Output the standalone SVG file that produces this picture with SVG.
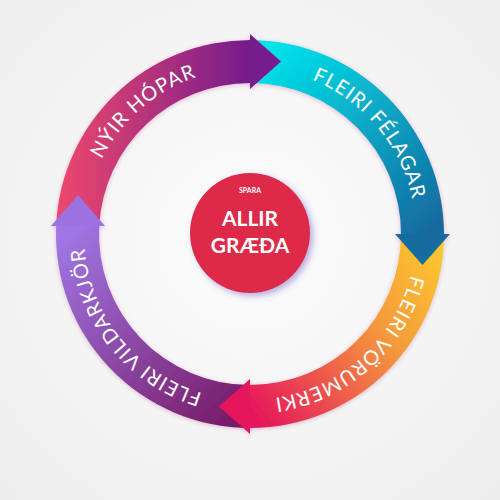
<svg xmlns="http://www.w3.org/2000/svg" width="500" height="500" viewBox="0 0 500 500">
  <defs>
    <radialGradient id="bg" cx="250" cy="240" r="360" gradientUnits="userSpaceOnUse">
      <stop offset="0" stop-color="#fdfdfd"/>
      <stop offset="1" stop-color="#ededee"/>
    </radialGradient>
    <linearGradient id="g1" x1="60" y1="150" x2="250" y2="150" gradientUnits="userSpaceOnUse">
      <stop offset="0" stop-color="#ec476c"/>
      <stop offset="1" stop-color="#761c8c"/>
    </linearGradient>
    <linearGradient id="g2" x1="270" y1="45" x2="430" y2="230" gradientUnits="userSpaceOnUse">
      <stop offset="0" stop-color="#00e4ea"/>
      <stop offset="1" stop-color="#146aa0"/>
    </linearGradient>
    <linearGradient id="g3" x1="450" y1="250" x2="250" y2="410" gradientUnits="userSpaceOnUse">
      <stop offset="0" stop-color="#fdca2b"/>
      <stop offset="0.4" stop-color="#f59a3c"/>
      <stop offset="1" stop-color="#e5175b"/>
    </linearGradient>
    <linearGradient id="g4" x1="240" y1="420" x2="70" y2="230" gradientUnits="userSpaceOnUse">
      <stop offset="0" stop-color="#771a66"/>
      <stop offset="1" stop-color="#9f76e4"/>
    </linearGradient>
    <filter id="glow" x="-20%" y="-20%" width="140%" height="140%">
      <feDropShadow dx="0" dy="1" stdDeviation="2" flood-color="#a0306a" flood-opacity="0.3"/>
    </filter>
    <filter id="cshadow" x="-30%" y="-30%" width="160%" height="160%">
      <feDropShadow dx="3" dy="3" stdDeviation="3" flood-color="#6050c0" flood-opacity="0.45"/>
    </filter>
    <path id="t1" d="M 95.0 293.5 A 166 166 0 0 1 330.5 88.8"/>
    <path id="t2" d="M 193.2 78.0 A 166 166 0 0 1 393.8 317.0"/>
    <path id="t3" d="M 403.9 171.8 A 166 166 0 0 1 172.1 380.6"/>
    <path id="t4" d="M 304.0 391.0 A 166 166 0 0 1 107.7 148.5"/>
  </defs>
  <style>
    .lbl { font-family: Lato, "Open Sans", sans-serif; font-size: 20px; fill: #ffffff; letter-spacing: 1px; }
    .ctr { font-family: Lato, "Open Sans", sans-serif; fill: #ffffff; text-anchor: middle; font-weight: 700; }
  </style>
  <rect width="500" height="500" fill="url(#bg)"/>
  <g id="connectors" filter="url(#glow)">
    <path id="seg1" d="M 56.17 226 A 194 194 0 0 1 250 40 L 250 83 A 151 151 0 0 0 99.21 226 Z" fill="url(#g1)"/>
    <path id="seg2" d="M 250 40 A 194 194 0 0 1 444 234 L 401 234 A 151 151 0 0 0 250 83 Z" fill="url(#g2)"/>
    <path id="seg3" d="M 444 234 A 194 194 0 0 1 250 428 L 250 385 A 151 151 0 0 0 401 234 Z" fill="url(#g3)"/>
    <path id="seg4" d="M 250 428 A 194 194 0 0 1 56.17 226 L 99.21 226 A 151 151 0 0 0 250 385 Z" fill="url(#g4)"/>
    <polygon points="250,34 281,61.5 250,89" fill="#761d8e"/>
    <polygon points="395,234 450,234 422.5,265" fill="#146ca0"/>
    <polygon points="250,379 219,406.5 250,434" fill="#e5185b"/>
    <polygon points="51,226 78,195 105,226" fill="#9c72e2"/>
  </g>
  <g id="label1"><text class="lbl"><textPath href="#t1" startOffset="50%" text-anchor="middle">NÝIR HÓPAR</textPath></text></g>
  <g id="label2"><text class="lbl"><textPath href="#t2" startOffset="50%" text-anchor="middle">FLEIRI FÉLAGAR</textPath></text></g>
  <g id="label3"><text class="lbl"><textPath href="#t3" startOffset="50%" text-anchor="middle">FLEIRI VÖRUMERKI</textPath></text></g>
  <g id="label4"><text class="lbl"><textPath href="#t4" startOffset="50%" text-anchor="middle">FLEIRI VILDARKJÖR</textPath></text></g>
  <g id="center">
    <circle cx="250" cy="233" r="60" fill="#dd2a4a" filter="url(#cshadow)"/>
    <text class="ctr" x="250" y="193" font-size="7">SPARA</text>
    <text class="ctr" x="250" y="226" font-size="21">ALLIR</text>
    <text class="ctr" x="250" y="253" font-size="21">GRÆÐA</text>
  </g>
</svg>
